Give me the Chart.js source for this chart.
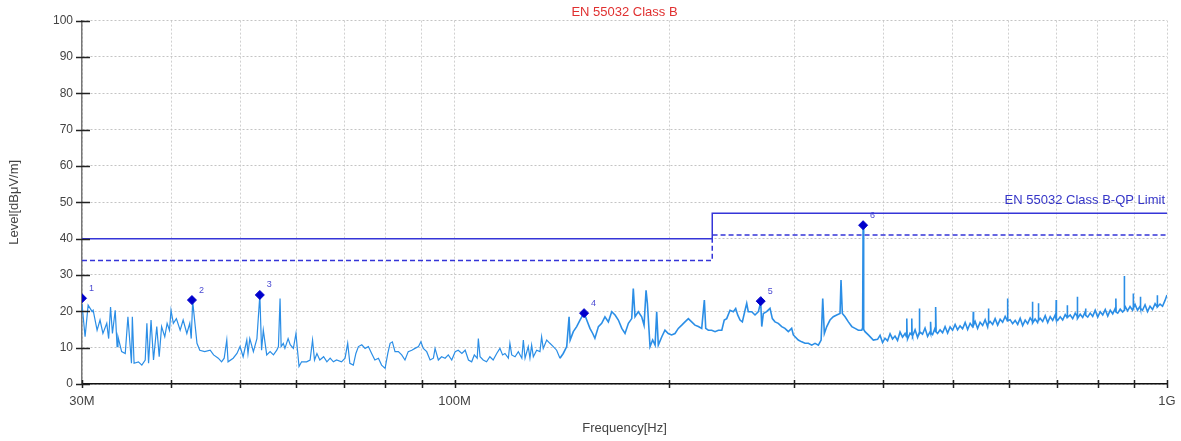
<!DOCTYPE html>
<html lang="en">
<head>
<meta charset="UTF-8">
<title>EN 55032 Class B</title>
<style>
    html, body { margin: 0; padding: 0; background: #ffffff; }
    #wrap { width: 1181px; height: 441px; }
</style>
<script src="https://cdn.jsdelivr.net/npm/chart.js"></script>
</head>
<body>
<div id="wrap"><canvas id="emiChart" width="1181" height="441"></canvas></div>
<script>
// x axis in MHz (log)
const xTickMHz = [30, 40, 50, 60, 70, 80, 90, 100, 200, 300, 400, 500, 600, 700, 800, 900, 1000];
const xTickLabels = { 30: '30M', 100: '100M', 1000: '1G' };

// limit lines
const limitFreqMHz = [30, 230, 230, 1000];
const qpLimit = [40, 40, 47, 47];
const qpLimitDashed = [34, 34, 41, 41];

// peak markers
const markerFreqMHz = [30.0, 42.8, 53.3, 152.0, 269.0, 374.5];
const markerLevel = [23.6, 23.1, 24.5, 19.5, 22.8, 43.7];
const markerNames = ['1', '2', '3', '4', '5', '6'];

const traceFreqMHz = [
    30.0, 30.3, 30.6, 31.0, 31.1, 31.5, 31.8, 32.1, 32.5, 32.7, 32.9, 33.1, 33.4, 33.6, 33.7, 34.1, 34.5, 34.8,
    35.2, 35.3, 35.5, 36.0, 36.4, 36.8, 37.0, 37.2, 37.5, 37.8, 38.2, 38.5, 38.8, 39.2, 39.5, 39.8, 40.0, 40.3,
    40.7, 41.2, 41.6, 42.1, 42.5, 42.7, 42.9, 43.5, 43.9, 44.6, 45.4, 45.9, 46.6, 47.1, 47.5, 47.9, 48.1, 48.9,
    49.5, 50.0, 50.5, 51.1, 51.3, 51.6, 52.2, 52.8, 53.3, 53.6, 53.9, 54.5, 55.1, 55.7, 56.3,
    56.6, 56.9, 57.1, 57.5, 57.8, 58.4, 58.8, 59.4, 59.9, 60.2, 60.5, 61.0, 62.0, 62.7, 63.2, 63.6, 64.1, 64.7,
    65.5, 66.2, 66.9, 67.6, 68.3, 69.4, 70.2, 70.8, 71.3, 72.1, 72.7, 73.3, 74.1, 74.9, 75.7, 76.5, 77.3, 78.2,
    79.0, 79.9, 80.6, 81.2, 81.8, 82.5, 83.4, 84.3, 85.2, 86.1, 87.1, 88.0, 89.0, 89.7, 90.4, 91.4, 92.4, 93.4,
    93.9, 94.9, 95.9, 97.0, 98.0, 99.1, 100.2, 101.2, 102.4, 103.5, 104.6, 105.7, 106.6,
    107.6, 108.0, 108.6, 109.7, 110.9, 112.1, 113.3, 114.6, 115.8, 116.8, 117.7, 119.0, 119.6, 120.3, 121.6,
    122.9, 124.3, 124.9, 125.6, 126.9, 127.6, 128.3, 129.0, 130.4, 131.8, 132.5, 133.2, 134.7, 136.1, 137.6,
    139.1, 140.6, 142.1, 143.7, 144.8, 145.3, 146.8, 148.4, 150.0, 152.0, 153.3, 154.9, 156.3, 157.4, 159.2,
    160.9, 162.6, 164.4, 166.2, 168.0, 169.8, 171.7, 173.5, 175.4, 177.3, 178.2, 179.2, 181.1, 183.1, 184.5,
    185.7, 186.5, 188.1, 189.7, 191.2, 192.2, 193.2, 195.4, 197.4, 199.5,
    201.7, 203.9, 206.1, 208.4, 210.6, 212.9, 215.2, 217.5, 219.9, 222.3, 224.2, 225.2, 227.1, 229.6, 232.1,
    234.6, 237.2, 239.1, 241.0, 243.6, 246.2, 248.1, 249.7, 251.6, 253.5, 255.7, 257.1, 258.4, 261.3, 264.1,
    267.0, 269.0, 269.9, 271.3, 274.2, 277.2, 279.3, 281.7, 284.7, 287.9, 290.9, 294.1, 297.3, 298.9, 300.6,
    303.7, 307.1, 310.4, 313.8, 317.2, 320.6, 324.1, 327.0, 328.7, 330.4, 333.0, 336.5, 340.1, 343.9, 347.6,
    348.7, 350.2, 353.3, 357.1, 361.1, 364.9, 368.8, 372.9, 373.9, 374.5, 375.2, 376.8, 380.9, 387.1,
    392.4, 395.6, 398.8, 402.0, 405.3, 408.6, 411.9, 415.2, 418.6, 422.0, 425.4, 428.9, 430.8, 431.3, 431.8,
    432.4, 435.9, 437.8, 438.3, 438.8, 439.4, 443.0, 446.6, 448.7, 449.2, 449.7, 450.2, 453.8, 457.5, 461.3,
    465.1, 465.5, 466.0, 466.5, 468.8, 472.6, 473.2, 473.7, 474.2, 476.4, 480.3, 484.2, 488.1, 492.1, 496.1,
    500.1, 504.2, 508.2, 512.3, 516.5, 520.8, 525.0, 529.3, 533.6, 534.2, 534.7, 535.2, 537.9, 542.2, 546.6,
    551.1, 555.6, 560.1, 561.1, 561.6, 562.1, 564.7, 569.2, 573.8, 578.5, 583.2, 587.9, 592.7, 596.8, 597.3,
    597.8, 602.3, 607.2, 612.2, 617.2, 622.2, 627.2, 632.3, 637.4, 642.6, 646.9, 647.4, 647.9, 653.0, 658.3,
    659.5, 660.0, 660.5, 663.7, 669.1, 674.6, 680.1, 685.6, 691.1, 696.7, 698.5, 699.0, 699.5, 702.4, 708.1,
    713.8, 719.6, 724.0, 724.5, 725.0, 731.4, 737.3, 743.3, 748.0, 748.5, 749.0, 755.4, 761.5, 767.7, 768.5,
    769.0, 769.5, 774.0, 780.2, 786.5, 792.9, 799.4, 805.9, 812.5, 819.1, 825.7, 832.4, 839.1, 845.9, 847.4,
    847.9, 848.4, 852.8, 859.7, 866.4, 870.7, 871.2, 871.7, 873.2, 880.3, 887.4, 894.6, 896.2, 896.7, 897.2,
    901.8, 909.1, 916.5, 917.5, 918.0, 918.5, 924.0, 931.5, 939.0, 946.6, 954.4, 962.2, 968.7, 969.2, 969.7,
    977.8, 985.7, 993.6, 1000.0
];
const traceLevel = [
    22.0, 13.0, 21.7, 19.9, 20.3, 14.8, 17.6, 13.9, 16.7, 12.5, 21.2, 13.9, 20.3, 10.3, 13.0, 8.9, 8.4, 18.5,
    5.7, 18.5, 5.7, 6.1, 5.2, 6.6, 16.7, 5.7, 17.6, 6.6, 15.8, 7.5, 15.8, 13.0, 16.7, 14.8, 20.3, 16.7,
    18.0, 14.8, 17.6, 13.9, 16.7, 12.5, 22.8, 11.2, 9.3, 8.9, 9.3, 8.0, 7.1, 6.1, 7.1, 12.1, 6.1, 7.1,
    8.4, 10.3, 7.5, 12.1, 8.4, 12.5, 8.9, 12.5, 24.5, 9.3, 14.8, 8.0, 8.9, 8.0, 9.3,
    10.3, 23.5, 10.3, 11.2, 9.8, 12.5, 10.8, 9.8, 13.9, 9.3, 4.8, 6.1, 6.1, 6.6, 12.1, 6.6, 8.4, 6.6,
    7.5, 6.1, 7.1, 6.1, 6.6, 6.1, 7.1, 11.2, 5.7, 5.2, 8.4, 10.3, 10.8, 9.8, 10.3, 8.4, 6.6, 7.1,
    5.2, 4.3, 8.4, 11.2, 11.6, 8.9, 8.9, 8.0, 6.6, 8.9, 9.3, 9.8, 10.3, 11.6, 9.8, 8.9, 6.6, 7.1,
    9.8, 6.6, 7.5, 7.1, 8.0, 6.6, 8.9, 9.3, 8.4, 9.3, 6.6, 6.1, 8.0,
    7.1, 12.5, 7.5, 6.6, 6.1, 7.5, 6.6, 8.4, 9.8, 8.0, 8.4, 7.1, 11.2, 8.0, 7.5,
    8.9, 7.1, 12.1, 7.1, 10.3, 7.1, 10.7, 7.5, 9.3, 8.9, 13.0, 9.8, 12.1, 11.2, 10.3,
    9.3, 7.1, 8.4, 10.3, 18.5, 12.1, 14.4, 15.8, 17.6, 19.6, 17.6, 15.3, 13.9, 12.6, 15.8,
    16.7, 18.5, 17.1, 19.9, 19.0, 17.6, 15.3, 13.9, 16.7, 18.0, 26.3, 18.5, 19.9, 18.5, 16.2,
    25.8, 22.2, 10.3, 12.1, 10.7, 19.9, 10.7, 13.0, 14.8, 13.9,
    13.5, 13.9, 15.3, 16.2, 17.1, 18.0, 17.1, 16.2, 15.8, 15.3, 23.1, 15.3, 14.8, 14.8, 14.4,
    14.8, 14.8, 17.6, 18.0, 20.3, 19.9, 20.8, 19.0, 17.6, 17.1, 20.3, 22.2, 19.9, 19.9, 19.0,
    19.9, 22.6, 15.8, 19.4, 19.9, 20.8, 18.0, 17.1, 16.7, 15.8, 15.3, 14.4, 15.3, 13.5, 13.0,
    12.1, 11.6, 11.2, 11.2, 10.7, 11.2, 10.7, 12.1, 23.5, 13.9, 15.8, 17.6, 18.5, 19.0, 19.4,
    28.6, 19.4, 18.5, 17.1, 15.8, 15.3, 14.8, 14.8, 15.5, 43.7, 15.0, 14.4, 13.5, 12.1,
    12.3, 13.4, 11.4, 12.6, 11.9, 13.8, 12.4, 13.2, 12.0, 14.3, 12.9, 13.9, 13.0, 18.0, 13.0,
    12.4, 14.0, 13.6, 18.0, 13.6, 13.2, 14.9, 12.8, 14.0, 20.8, 14.0, 14.3, 13.7, 15.4, 13.1,
    14.4, 14.0, 17.1, 14.0, 13.6, 15.4, 14.3, 21.2, 14.3, 13.9, 14.9, 14.1, 15.8, 14.0, 15.7,
    14.8, 16.4, 14.9, 16.0, 15.2, 16.9, 15.0, 16.7, 15.7, 16.2, 19.9, 16.2, 17.2, 15.3, 17.0,
    16.1, 17.7, 15.7, 16.7, 20.8, 16.7, 17.2, 16.4, 18.0, 16.2, 17.8, 17.0, 18.6, 17.4, 23.5,
    17.4, 17.7, 16.6, 17.5, 16.4, 18.1, 16.1, 17.6, 16.6, 18.2, 17.3, 22.6, 16.8, 17.9, 16.9,
    17.5, 22.2, 17.5, 18.1, 17.2, 18.8, 16.9, 18.5, 17.5, 19.0, 18.0, 23.1, 18.0, 17.5, 18.5,
    17.6, 19.1, 18.3, 21.7, 18.3, 19.0, 18.0, 19.5, 18.6, 24.0, 18.0, 19.2, 18.3, 19.9, 18.9,
    20.8, 18.9, 18.4, 19.5, 18.6, 20.3, 18.4, 19.9, 19.0, 20.5, 18.7, 20.3, 19.3, 20.8, 19.8,
    23.5, 19.8, 19.5, 20.6, 19.8, 20.3, 29.7, 20.3, 21.4, 20.1, 21.3, 20.3, 20.8, 24.9, 20.8,
    21.9, 20.3, 21.4, 20.8, 24.0, 20.8, 20.3, 21.8, 19.9, 21.4, 20.5, 22.1, 21.2, 24.4, 21.2,
    22.0, 21.4, 23.0, 24.5
];

const toPoints = (xs, ys) => xs.map((x, i) => ({ x: x, y: ys[i] }));

// tick marks crossing the axis lines + text annotations
const annotate = {
    id: 'annotate',
    afterDraw(chart) {
        const ctx = chart.ctx;
        const a = chart.chartArea;
        const xs = chart.scales.x;
        const ys = chart.scales.y;
        ctx.save();
        ctx.strokeStyle = '#222';
        ctx.lineWidth = 1.5;
        ctx.beginPath();
        ys.ticks.forEach(t => {
            const py = Math.round(ys.getPixelForValue(t.value)) + 0.5;
            ctx.moveTo(a.left - 6, py);
            ctx.lineTo(a.left + 8, py);
        });
        xs.ticks.forEach(t => {
            const px = Math.round(xs.getPixelForValue(t.value)) + 0.5;
            ctx.moveTo(px, a.bottom - 4);
            ctx.lineTo(px, a.bottom + 4);
        });
        ctx.stroke();

        // marker numbers
        ctx.fillStyle = '#4a4ad2';
        ctx.font = '9px "Liberation Sans", Arial, sans-serif';
        ctx.textAlign = 'left';
        ctx.textBaseline = 'middle';
        markerFreqMHz.forEach((f, i) => {
            const px = xs.getPixelForValue(f);
            const py = ys.getPixelForValue(markerLevel[i]);
            ctx.fillText(markerNames[i], px + 7, py - 10);
        });

        // limit line name
        ctx.fillStyle = '#3535c8';
        ctx.font = '13px "Liberation Sans", Arial, sans-serif';
        ctx.textAlign = 'right';
        ctx.fillText('EN 55032 Class B-QP Limit', xs.getPixelForValue(1000) - 2, ys.getPixelForValue(qpLimit[3]) - 13);
        ctx.restore();
    }
};

new Chart(document.getElementById('emiChart'), {
    type: 'line',
    data: {
        datasets: [
            {
                label: 'Peaks',
                data: toPoints(markerFreqMHz, markerLevel),
                showLine: false,
                pointStyle: 'rectRot',
                pointRadius: 4.5,
                backgroundColor: '#0000cc',
                borderColor: '#0000cc',
                order: 0
            },
            {
                label: 'EN 55032 Class B-QP Limit',
                data: toPoints(limitFreqMHz, qpLimit),
                borderColor: '#3535d8',
                borderWidth: 1.5,
                pointRadius: 0,
                order: 1
            },
            {
                label: 'QP Limit - 6dB',
                data: toPoints(limitFreqMHz, qpLimitDashed),
                borderColor: '#3535d8',
                borderWidth: 1.5,
                borderDash: [5, 3],
                pointRadius: 0,
                order: 1
            },
            {
                label: 'Level',
                data: toPoints(traceFreqMHz, traceLevel),
                borderColor: '#2b8ee6',
                borderWidth: 1.2,
                pointRadius: 0,
                tension: 0,
                segment: {
                    // the upper band is a dense noise floor, drawn a bit heavier
                    borderWidth: c => c.p0.parsed.x > 140 ? 1.6 : 1.2
                },
                order: 2
            }
        ]
    },
    options: {
        responsive: false,
        animation: false,
        layout: { padding: { top: 0, right: 14, bottom: 0, left: 0 } },
        plugins: {
            legend: { display: false },
            tooltip: { enabled: false },
            title: {
                display: true,
                text: 'EN 55032 Class B',
                color: '#e03030',
                fullSize: false,
                font: { family: '"Liberation Sans", Arial, sans-serif', size: 13, weight: 'normal' },
                padding: { top: 5, bottom: 0 }
            }
        },
        scales: {
            x: {
                type: 'logarithmic',
                min: 30,
                max: 1000,
                afterBuildTicks: scale => { scale.ticks = xTickMHz.map(v => ({ value: v })); },
                afterFit: scale => {
                    scale.height = 57;
                    scale.paddingLeft = 0;
                    scale.paddingRight = 0;
                },
                ticks: {
                    autoSkip: false,
                    maxRotation: 0,
                    padding: 10,
                    color: '#444',
                    font: { family: '"Liberation Sans", Arial, sans-serif', size: 13 },
                    callback: v => xTickLabels[v] || ''
                },
                grid: { color: '#d0d0d0', drawTicks: false },
                border: { display: true, color: '#111', width: 1.5, dash: [2, 2] },
                title: {
                    display: true,
                    text: 'Frequency[Hz]',
                    color: '#444',
                    font: { family: '"Liberation Sans", Arial, sans-serif', size: 13 },
                    padding: { top: 0, bottom: 5 }
                }
            },
            y: {
                min: 0,
                max: 100,
                afterFit: scale => { scale.width = 82; },
                ticks: {
                    stepSize: 10,
                    padding: 9,
                    color: '#444',
                    font: { family: '"Liberation Sans", Arial, sans-serif', size: 12 }
                },
                grid: { color: '#c4c4c4', drawTicks: false },
                border: { display: true, color: '#777', width: 1.5, dash: [2, 2] },
                title: {
                    display: true,
                    text: 'Level[dBμV/m]',
                    color: '#444',
                    font: { family: '"Liberation Sans", Arial, sans-serif', size: 13 },
                    padding: { top: 7, bottom: 0 }
                }
            }
        }
    },
    plugins: [annotate]
});
</script>
</body>
</html>
